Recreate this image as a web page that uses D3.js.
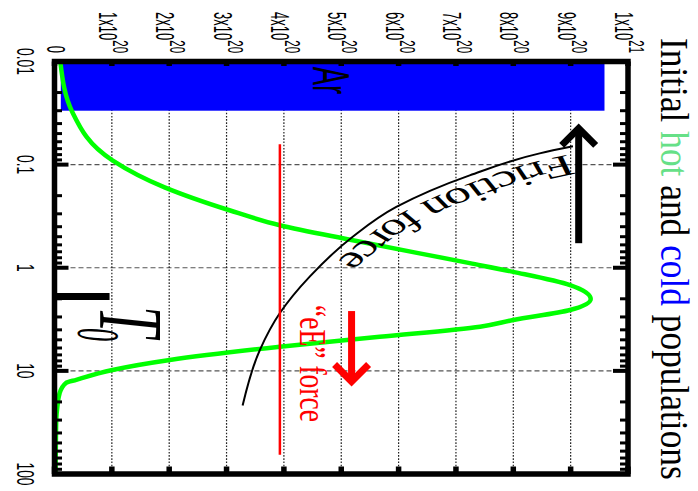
<!DOCTYPE html>
<html lang="en">
<head>
  <meta charset="UTF-8">
  <title>Initial hot and cold populations</title>
  <script src="https://d3js.org/d3.v7.min.js"></script>
  <style>
    body { margin: 0; background: #fff; }
    svg { display: block; }
    text { white-space: pre; }
  </style>
</head>
<body>
  <svg id="chart" width="698" height="491"></svg>

  <script>
    // axes: energy on a log scale, density in units of 1e20
    const energyTicks = [0.01, 0.1, 1, 10, 100];
    const energyLabels = ["0.01", "0.1", "1", "10", "100"];
    const densityTicks = [0, 1, 2, 3, 4, 5, 6, 7, 8, 9, 10];
    const densityMantissa = ["0", "1x10", "2x10", "3x10", "4x10", "5x10", "6x10", "7x10", "8x10", "9x10", "1x10"];
    const densityExponent = ["", "20", "20", "20", "20", "20", "20", "20", "20", "20", "21"];

    // hot population (green)
    const hotEnergy = [0.01045, 0.0312, 0.0908, 0.166, 0.277, 0.387, 0.541, 0.902, 1.096, 1.473, 2.01, 2.57, 3.21, 3.73, 4.67, 5.83, 7.84, 9.8, 12.2, 13.1, 16.4, 22.3, 30, 100];
    const hotDensity = [0.105, 0.314, 1.01, 1.92, 3.05, 3.93, 5.2, 7.24, 8.0, 8.99, 9.35, 8.99, 8.0, 7.42, 5.67, 3.93, 2.01, 1.01, 0.38, 0.2, 0.09, 0.05, 0.03, 0.02];

    // cold population (Ar block)
    const arEnergy = [0.01, 0.03];
    const arDensity = [0.11, 9.59];

    // friction force curve
    const frictionEnergy = [0.0665, 0.0778, 0.127, 0.257, 0.5, 1.22, 2.75, 6.28, 21.7];
    const frictionValue = [9.04, 8.46, 7.24, 5.96, 5.2, 4.45, 3.93, 3.58, 3.28];

    // "eE" force level
    const eEEnergy = [0.0635, 65];
    const eELevel = 3.93;

    // arrows: [from, to] energy, at a density level
    const frictionArrowEnergy = [0.578, 0.0398];
    const frictionArrowLevel = 9.14;
    const eEArrowEnergy = [2.63, 14.2];
    const eEArrowLevel = 5.18;

    // T0 marker
    const t0Energy = 1.9;
    const t0Height = [0, 0.96];

    const titleParts = ["Initial ", "hot", " and ", "cold", " populations"];
    const titleColors = ["#000", "#66e087", "#000", "#0000ff", "#000"];

    const serif = "'Liberation Serif', 'DejaVu Serif', serif";
    const sans = "'Liberation Sans', Arial, sans-serif";

    const svg = d3.select("#chart");
    // plot is drawn lying down (x = energy, y = density) and turned a quarter clockwise
    const g = svg.append("g").attr("transform", "translate(698,0) rotate(90)");

    const x = d3.scaleLog().domain([0.01, 100]).range([61.5, 474]);
    const y = d3.scaleLinear().domain([0, 10]).range([643.5, 70]);

    // squeeze a text to a given width, the picture has narrow glyphs
    function squeeze(sel, px, py, width) {
      const w = sel.node().getComputedTextLength();
      sel.attr("transform", `translate(${px},${py}) scale(${width / w},1)`);
    }

    // grid
    g.selectAll(".grid-e")
      .data(energyTicks.slice(1, -1))
      .join("line")
      .attr("x1", d => x(d)).attr("x2", d => x(d))
      .attr("y1", y(0)).attr("y2", y(10))
      .attr("stroke", "#555").attr("stroke-width", 1.1)
      .attr("stroke-dasharray", "5,3");

    g.selectAll(".grid-d")
      .data(densityTicks.slice(1, -1))
      .join("line")
      .attr("x1", x(0.01)).attr("x2", x(100))
      .attr("y1", d => y(d)).attr("y2", d => y(d))
      .attr("stroke", "#222").attr("stroke-width", 1.2)
      .attr("stroke-dasharray", "1.6,1.6");

    // cold Ar block
    g.append("rect")
      .attr("x", x(arEnergy[0]))
      .attr("y", y(arDensity[1]))
      .attr("width", x(arEnergy[1]) - x(arEnergy[0]))
      .attr("height", y(arDensity[0]) - y(arDensity[1]))
      .attr("fill", "#0000ff");

    const ar = g.append("text").text("Ar")
      .attr("font-family", sans).attr("font-size", 51).attr("fill", "#000");
    squeeze(ar, 66.7, 385, 27.6);

    // hot population
    const line = d3.line().x(d => x(d[0])).y(d => y(d[1])).curve(d3.curveMonotoneX);

    g.append("path")
      .attr("d", line(hotEnergy.map((e, i) => [e, hotDensity[i]])))
      .attr("fill", "none")
      .attr("stroke", "#00ff00")
      .attr("stroke-width", 4.5);

    // friction curve
    const frictionPts = frictionEnergy.map((e, i) => [e, frictionValue[i]]);
    g.append("path")
      .attr("d", line(frictionPts))
      .attr("fill", "none")
      .attr("stroke", "#000")
      .attr("stroke-width", 2);

    // label along the friction curve, in a y-squashed frame so it stretches like the rest
    const k = 1.5;
    const fg = g.append("g").attr("transform", `scale(1,${k})`);
    const squashed = d3.line().x(d => x(d[0])).y(d => y(d[1]) / k).curve(d3.curveMonotoneX);
    const fpath = fg.append("path")
      .attr("id", "friction-path")
      .attr("d", squashed(frictionPts))
      .attr("fill", "none");
    const pnode = fpath.node();
    const total = pnode.getTotalLength();
    let l0 = 0, l1 = total;
    for (let l = 0; l <= total; l += 0.5) {
      const p = pnode.getPointAtLength(l);
      if (p.x < 148) l0 = l;
      if (p.x < 258) l1 = l;
    }
    fg.append("text")
      .attr("font-family", serif).attr("font-size", 30).attr("fill", "#000")
      .attr("dy", -7)
      .append("textPath")
      .attr("href", "#friction-path")
      .attr("startOffset", l0)
      .attr("textLength", l1 - l0)
      .attr("lengthAdjust", "spacingAndGlyphs")
      .text("Friction force");

    // eE force level
    g.append("line")
      .attr("x1", x(eEEnergy[0])).attr("x2", x(eEEnergy[1]))
      .attr("y1", y(eELevel)).attr("y2", y(eELevel))
      .attr("stroke", "#ff0000").attr("stroke-width", 2.5);

    const eE = g.append("text").text("\u201ceE\u201d force")
      .attr("font-family", serif).attr("font-size", 38).attr("fill", "#ff0000");
    squeeze(eE, 305, 398, 117);

    // arrows
    function arrow(energies, level, color) {
      const x0 = x(energies[0]), x1 = x(energies[1]), yy = y(level);
      const dir = Math.sign(x1 - x0);
      const tip = x1 - dir * 5;
      const hl = 17, hw = 17;
      g.append("line")
        .attr("x1", x0).attr("x2", tip)
        .attr("y1", yy).attr("y2", yy)
        .attr("stroke", color).attr("stroke-width", 7);
      g.append("polyline")
        .attr("points", [[tip - dir * hl, yy - hw], [tip, yy], [tip - dir * hl, yy + hw]].join(" "))
        .attr("fill", "none")
        .attr("stroke", color).attr("stroke-width", 7)
        .attr("stroke-linejoin", "miter");
    }
    arrow(frictionArrowEnergy, frictionArrowLevel, "#000");
    arrow(eEArrowEnergy, eEArrowLevel, "#ff0000");

    // T0 marker
    g.append("line")
      .attr("x1", x(t0Energy)).attr("x2", x(t0Energy))
      .attr("y1", y(t0Height[0])).attr("y2", y(t0Height[1]))
      .attr("stroke", "#000").attr("stroke-width", 7);

    const tT = g.append("text").text("T")
      .attr("font-family", serif).attr("font-style", "italic").attr("font-size", 90);
    squeeze(tT, 306, 598, 31);
    const t0 = g.append("text").text("0")
      .attr("font-family", serif).attr("font-style", "italic").attr("font-size", 62);
    squeeze(t0, 328, 620, 13);

    // ticks
    const minor = x.ticks().filter(d => !energyTicks.includes(d));
    [[y(0), -1, 14, 7.5], [y(10), 1, 15, 8]].forEach(([base, s, major, short]) => {
      g.selectAll(null).data(energyTicks).join("line")
        .attr("x1", d => x(d)).attr("x2", d => x(d))
        .attr("y1", base).attr("y2", base + s * major)
        .attr("stroke", "#000").attr("stroke-width", 4);
      g.selectAll(null).data(minor).join("line")
        .attr("x1", d => x(d)).attr("x2", d => x(d))
        .attr("y1", base).attr("y2", base + s * short)
        .attr("stroke", "#000").attr("stroke-width", 3);
    });
    [[x(0.01), 1, 4.5], [x(100), -1, 7.5]].forEach(([base, s, len]) => {
      g.selectAll(null).data(densityTicks).join("line")
        .attr("x1", base).attr("x2", base + s * len)
        .attr("y1", d => y(d)).attr("y2", d => y(d))
        .attr("stroke", "#000").attr("stroke-width", 5.5);
    });

    // frame
    g.append("rect")
      .attr("x", x(0.01)).attr("y", y(10))
      .attr("width", x(100) - x(0.01))
      .attr("height", y(0) - y(10))
      .attr("fill", "none")
      .attr("stroke", "#000")
      .attr("stroke-width", 5.5);

    // tick labels
    energyTicks.forEach((e, i) => {
      g.append("text").text(energyLabels[i])
        .attr("font-family", sans).attr("font-size", 23)
        .attr("text-anchor", "middle")
        .attr("transform", `translate(${x(e)},681) scale(0.6,1)`);
    });

    densityTicks.forEach((d, i) => {
      const t = g.append("text")
        .attr("font-family", sans).attr("font-size", 25)
        .attr("text-anchor", "end")
        .attr("transform", `translate(53,${y(d) + (i ? 13 : 8)}) scale(0.52,1)`);
      t.append("tspan").text(densityMantissa[i]);
      if (densityExponent[i]) {
        t.append("tspan").attr("dy", -14).attr("font-size", 22).text(densityExponent[i]);
      }
    });

    // title
    const title = g.append("text").attr("font-family", serif).attr("font-size", 41);
    titleParts.forEach((p, i) => title.append("tspan").attr("fill", titleColors[i]).text(p));
    squeeze(title, 38, 37.5, 442);
  </script>
</body>
</html>
